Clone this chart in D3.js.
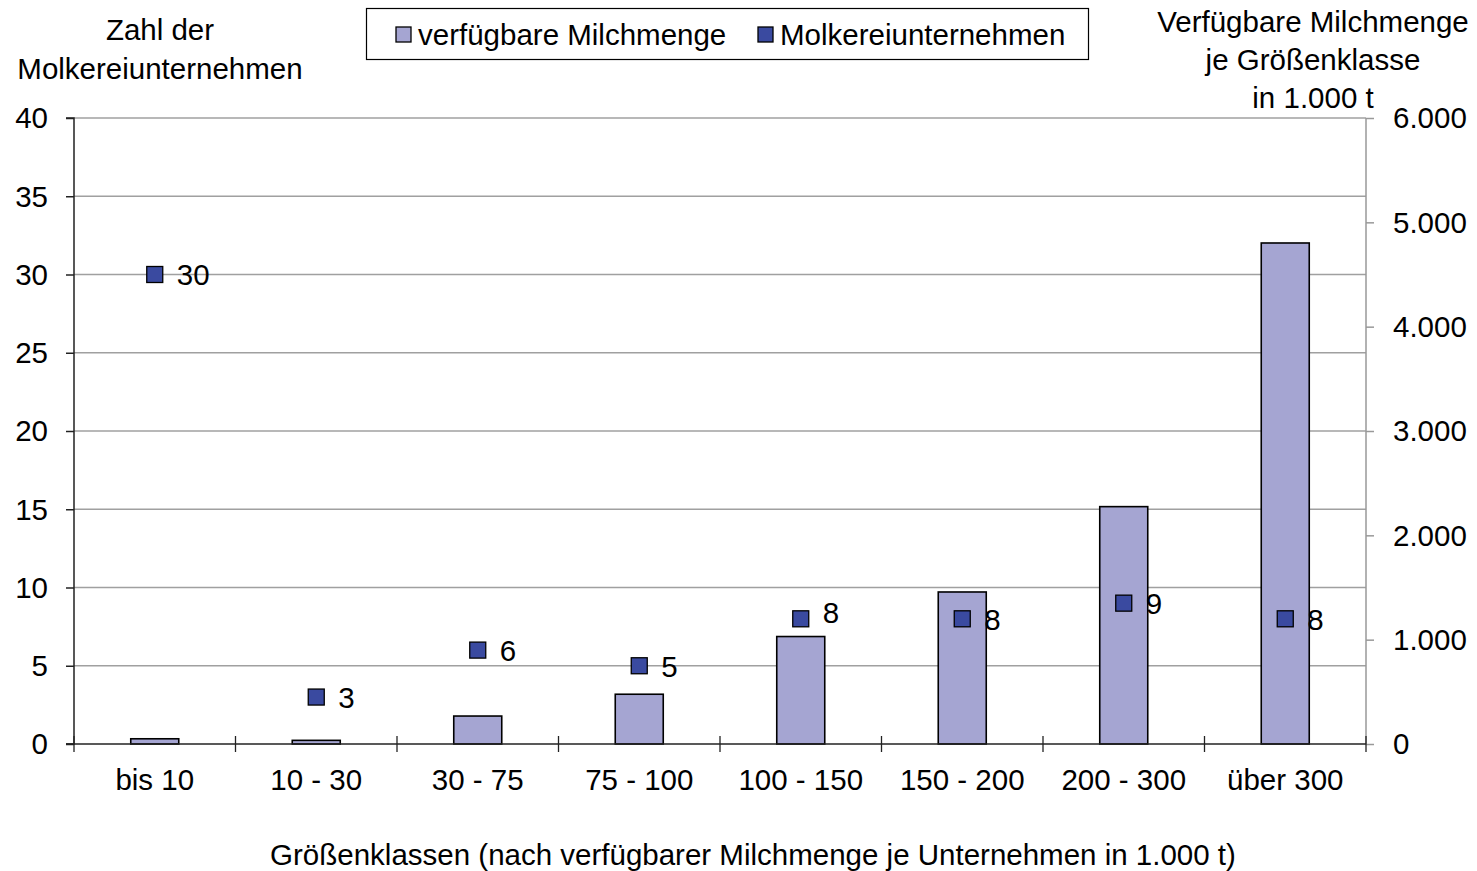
<!DOCTYPE html>
<html>
<head>
<meta charset="utf-8">
<script src="https://cdn.jsdelivr.net/npm/d3@7"></script>
<style>
  body { margin: 0; background: #fff; }
  text { font-family: "Liberation Sans", Arial, sans-serif; fill: #000; }
</style>
</head>
<body>
<svg width="1477" height="871"></svg>
<script>
// Data
const categories = ["bis 10", "10 - 30", "30 - 75", "75 - 100", "100 - 150", "150 - 200", "200 - 300", "über 300"];
const milchmenge = [50, 35, 268, 477, 1030, 1457, 2275, 4802];   // 1.000 t, right axis
const unternehmen = [30, 3, 6, 5, 8, 8, 9, 8];                    // count, left axis
const leftTicks = [0, 5, 10, 15, 20, 25, 30, 35, 40];
const rightTicks = [0, 1000, 2000, 3000, 4000, 5000, 6000];

const margin = { top: 118, right: 111, bottom: 127, left: 74 },
  width = 1477 - margin.left - margin.right,
  height = 871 - margin.top - margin.bottom;

const FS = "29.5px";

const svg = d3.select("svg")
  .append("g")
  .attr("transform", `translate(${margin.left},${margin.top})`);

const x = d3.scaleBand().domain(categories).range([0, width]);
const yL = d3.scaleLinear().domain([0, 40]).range([height, 0]);
const yR = d3.scaleLinear().domain([0, 6000]).range([height, 0]);

const fmt = d => d3.format(",")(d).replace(/,/g, ".");

// gridlines
svg.append("g")
  .selectAll("line")
  .data(leftTicks.filter(d => d > 0))
  .enter().append("line")
  .attr("x1", 0).attr("x2", width)
  .attr("y1", d => yL(d)).attr("y2", d => yL(d))
  .attr("stroke", "#a0a0a0").attr("stroke-width", 1.5);

// bars
const barW = 48;
svg.selectAll(".bar")
  .data(milchmenge)
  .enter().append("rect")
  .attr("x", (d, i) => x(categories[i]) + x.bandwidth() / 2 - barW / 2)
  .attr("y", d => yR(d))
  .attr("width", barW)
  .attr("height", d => height - yR(d))
  .attr("fill", "#a5a5d2")
  .attr("stroke", "#000").attr("stroke-width", 1.6);

// left axis
const gL = svg.append("g")
  .call(d3.axisLeft(yL).tickValues(leftTicks).tickSize(8).tickPadding(18));
gL.select(".domain").attr("stroke", "#222").attr("stroke-width", 1.5).attr("d", `M-8,0H0V${height}H-8`);
gL.selectAll(".tick line").attr("stroke", "#222").attr("stroke-width", 1.5);
gL.selectAll("text").style("font-size", FS).attr("dy", "0.33em");

// right axis
const gR = svg.append("g")
  .attr("transform", `translate(${width},0)`)
  .call(d3.axisRight(yR).tickValues(rightTicks).tickSize(8).tickPadding(19).tickFormat(fmt));
gR.select(".domain").attr("stroke", "#999").attr("stroke-width", 1.5).attr("d", `M0,0V${height}`);
gR.selectAll(".tick line").attr("stroke", "#999").attr("stroke-width", 1.5);
gR.selectAll("text").style("font-size", FS).attr("dy", "0.33em");

// x axis
const gX = svg.append("g").attr("transform", `translate(0,${height})`);
gX.append("line").attr("x1", -8).attr("x2", width).attr("stroke", "#222").attr("stroke-width", 1.5);
gX.selectAll(".sep")
  .data(d3.range(categories.length + 1))
  .enter().append("line")
  .attr("x1", i => i * x.bandwidth()).attr("x2", i => i * x.bandwidth())
  .attr("y1", -8).attr("y2", 8)
  .attr("stroke", "#222").attr("stroke-width", 1.3);
gX.selectAll(".lbl")
  .data(categories)
  .enter().append("text")
  .attr("x", d => x(d) + x.bandwidth() / 2)
  .attr("y", 46)
  .attr("text-anchor", "middle")
  .style("font-size", FS)
  .text(d => d);

// markers
const mk = 16;
svg.selectAll(".pt")
  .data(unternehmen)
  .enter().append("rect")
  .attr("x", (d, i) => x(categories[i]) + x.bandwidth() / 2 - mk / 2)
  .attr("y", d => yL(d) - mk / 2)
  .attr("width", mk).attr("height", mk)
  .attr("fill", "#3a4aa0").attr("stroke", "#000").attr("stroke-width", 1.3);
svg.selectAll(".ptl")
  .data(unternehmen)
  .enter().append("text")
  .attr("x", (d, i) => x(categories[i]) + x.bandwidth() / 2 + 22)
  .attr("y", (d, i) => yL(d) - (i === 4 ? 7 : 0))
  .attr("dy", "0.37em")
  .style("font-size", FS)
  .text(d => d);

// axis titles
const root = d3.select("svg");
root.append("text").attr("x", 160).attr("y", 40).attr("text-anchor", "middle")
  .style("font-size", FS).text("Zahl der");
root.append("text").attr("x", 160).attr("y", 79).attr("text-anchor", "middle")
  .style("font-size", FS).text("Molkereiunternehmen");
["Verfügbare Milchmenge", "je Größenklasse", "in 1.000 t"].forEach((t, i) => {
  root.append("text").attr("x", 1313).attr("y", 32 + i * 38).attr("text-anchor", "middle")
    .style("font-size", FS).text(t);
});
root.append("text").attr("x", 753).attr("y", 865).attr("text-anchor", "middle")
  .style("font-size", FS).text("Größenklassen (nach verfügbarer Milchmenge je Unternehmen in 1.000 t)");

// legend
const lg = root.append("g");
lg.append("rect").attr("x", 366.5).attr("y", 8.5).attr("width", 722).attr("height", 51)
  .attr("fill", "#fff").attr("stroke", "#000").attr("stroke-width", 1.2);
const legendItems = [
  { label: "verfügbare Milchmenge", color: "#a5a5d2", x: 396 },
  { label: "Molkereiunternehmen", color: "#3a4aa0", x: 758 }
];
legendItems.forEach(it => {
  lg.append("rect").attr("x", it.x).attr("y", 27).attr("width", 15).attr("height", 15)
    .attr("fill", it.color).attr("stroke", "#000").attr("stroke-width", 1.3);
  lg.append("text").attr("x", it.x + 22).attr("y", 45)
    .style("font-size", FS).text(it.label);
});
</script>
</body>
</html>
